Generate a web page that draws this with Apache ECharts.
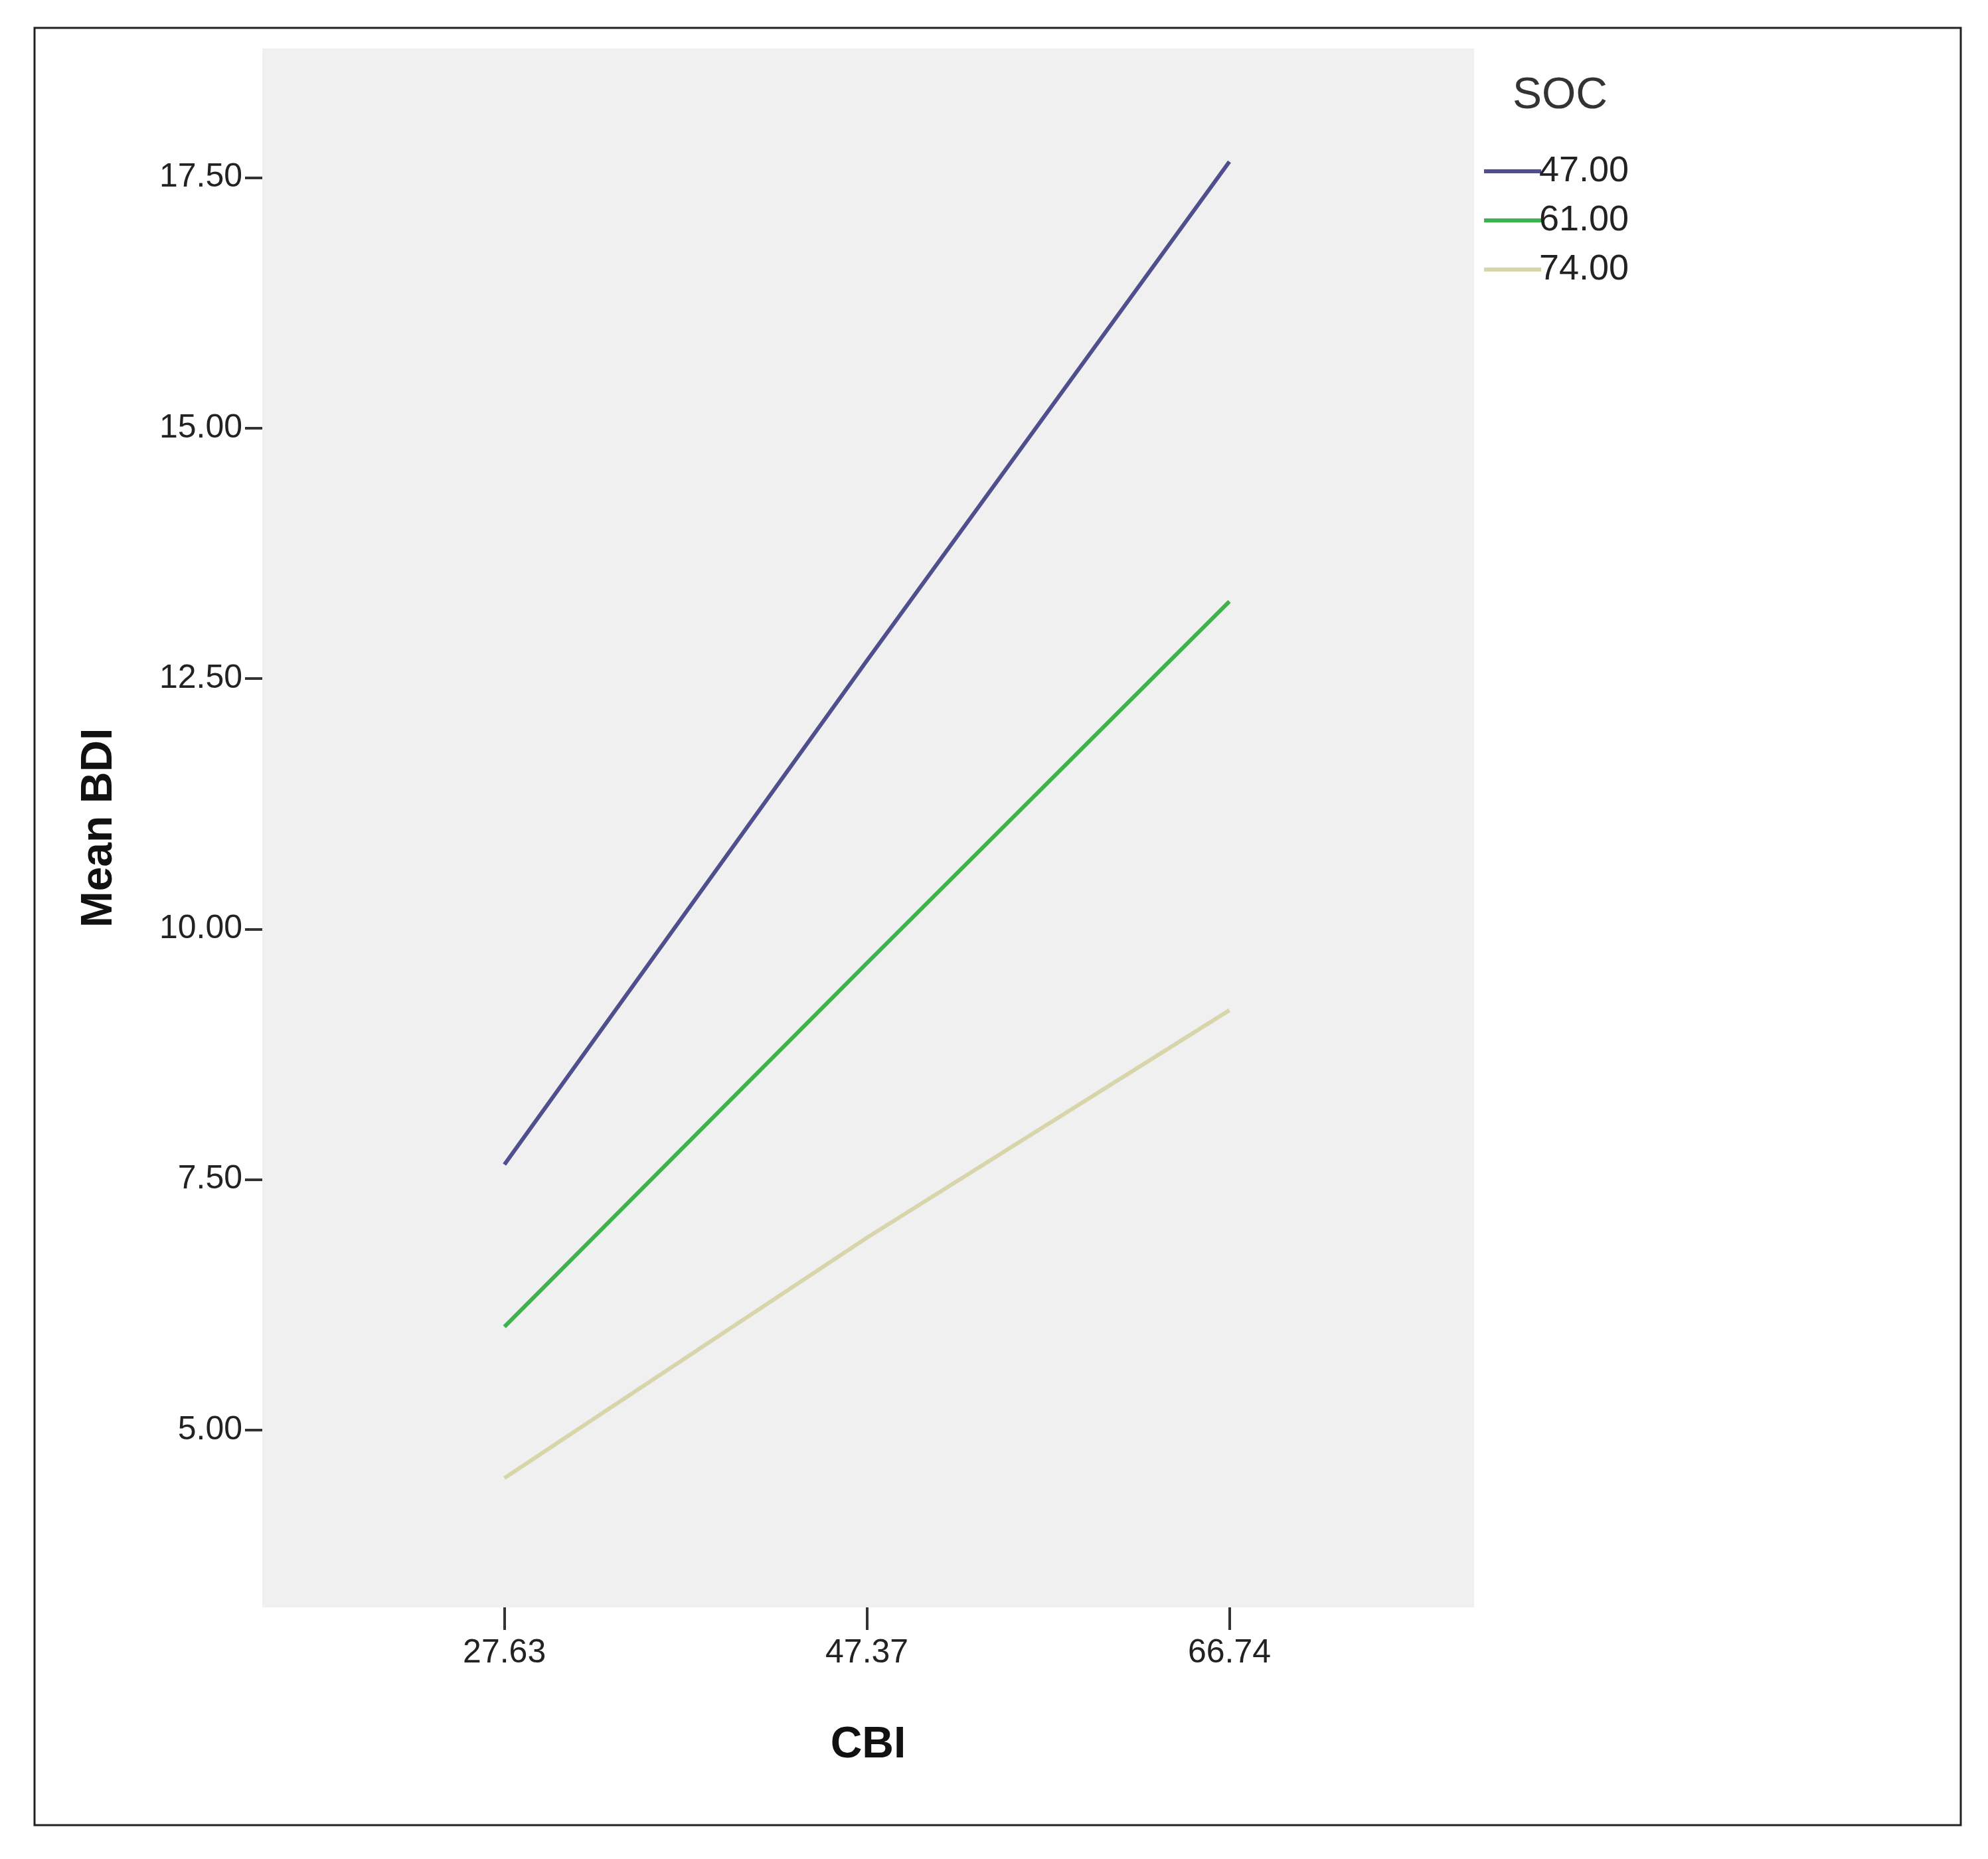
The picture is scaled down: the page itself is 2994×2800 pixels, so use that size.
<!DOCTYPE html>
<html>
<head>
<meta charset="utf-8">
<script src="https://cdn.jsdelivr.net/npm/echarts@6/dist/echarts.min.js"></script>
<style>html,body{margin:0;background:#fff}#c{width:2994px;height:2800px}</style>
</head>
<body>
<div id="c"></div>
<script>
// CBI levels (plotted at index positions 0,1,2)
var cbiLabels = ['27.63', '47.37', '66.74'];
var socNames = ['47.00', '61.00', '74.00'];
var soc47 = [7.65, 12.68, 17.66];
var soc61 = [6.03, 9.66, 13.27];
var soc74 = [4.52, 6.92, 9.19];
var yTicks = [5, 7.5, 10, 12.5, 15, 17.5];
var colors = ['#4f4f8e', '#3cb44b', '#d9d5ab'];
var font = '"Liberation Sans Narrow", "Liberation Sans", Arial, sans-serif';

function pts(arr) {
    return arr.map(function (v, i) { return [i, v]; });
}

var myChart = echarts.init(document.getElementById('c'));
var series = [soc47, soc61, soc74].map(function (d, i) {
    return {
        name: socNames[i],
        type: 'line',
        symbol: 'none',
        data: pts(d),
        lineStyle: { width: 6, color: colors[i] },
        itemStyle: { color: colors[i] }
    };
});

var option = {
    animation: false,
    backgroundColor: '#fff',
    grid: { left: 395, right: 774, top: 73, bottom: 379, show: true, backgroundColor: '#f0f0f0', borderWidth: 0 },
    graphic: [
        { type: 'rect', shape: { x: 52, y: 42, width: 2901, height: 2707 }, style: { fill: 'none', stroke: '#222', lineWidth: 3 } },
        { type: 'text', left: 2278, top: 112, style: { text: 'SOC', font: '66px ' + font, fill: '#333' } }
    ],
    legend: {
        orient: 'vertical', left: 2230, top: 222,
        icon: 'rect', itemWidth: 86, itemHeight: 6, itemGap: 12,
        textStyle: { fontFamily: font, fontSize: 54, color: '#222', lineHeight: 62, padding: [0, 0, 0, -8] },
        data: socNames
    },
    xAxis: {
        type: 'value', min: -0.668, max: 2.675,
        name: 'CBI', nameLocation: 'middle', nameGap: 175,
        nameTextStyle: { fontFamily: 'Liberation Sans, Arial, sans-serif', fontWeight: 'bold', fontSize: 66, color: '#111' },
        axisLine: { show: false, onZero: false }, splitLine: { show: false },
        axisTick: { show: true, length: 34, customValues: [0, 1, 2], lineStyle: { color: '#333', width: 4 } },
        axisLabel: { customValues: [0, 1, 2], margin: 44, fontFamily: font, fontSize: 50, color: '#222',
            formatter: function (v) { return cbiLabels[Math.round(v)]; } }
    },
    yAxis: {
        type: 'value', min: 3.23, max: 18.79,
        name: 'Mean BDI', nameLocation: 'middle', nameGap: 212,
        nameTextStyle: { fontFamily: 'Liberation Sans, Arial, sans-serif', fontWeight: 'bold', fontSize: 66, color: '#111' },
        axisLine: { show: false, onZero: false }, splitLine: { show: false },
        axisTick: { show: true, length: 26, customValues: yTicks, lineStyle: { color: '#333', width: 4 } },
        axisLabel: { customValues: yTicks, margin: 30, fontFamily: font, fontSize: 50, color: '#222',
            formatter: function (v) { return v.toFixed(2); } }
    },
    series: series
};
myChart.setOption(option);
</script>
</body>
</html>
